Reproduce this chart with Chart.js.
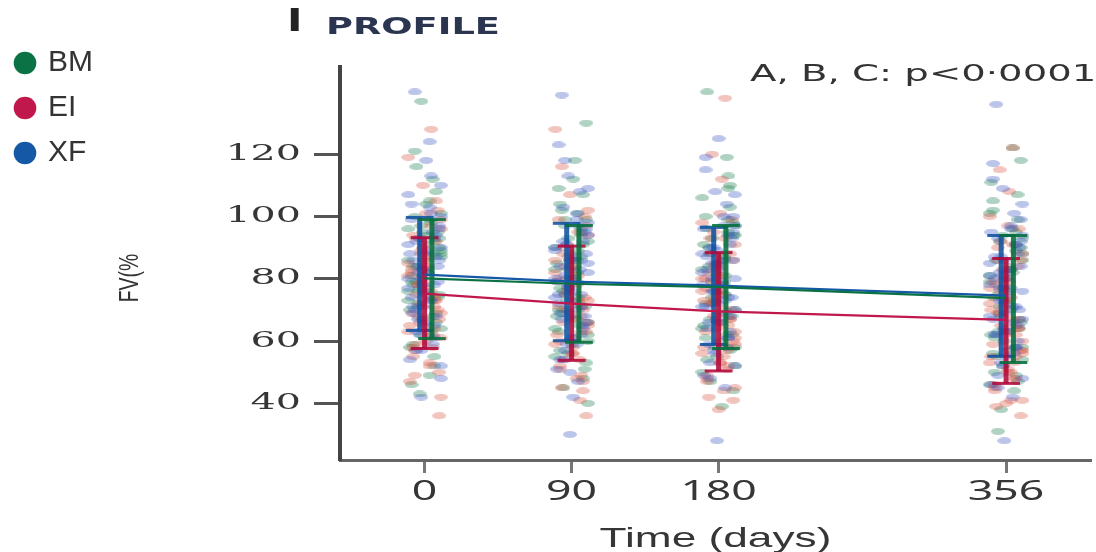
<!DOCTYPE html>
<html>
<head>
<meta charset="utf-8">
<script src="https://cdn.jsdelivr.net/npm/chart.js@4.4.1/dist/chart.umd.min.js"></script>
<style>
  html, body { margin: 0; padding: 0; background: #fff; }
  .wrap { width: 1096px; height: 552px; position: relative; }
</style>
</head>
<body>
<div class="wrap"><canvas id="profileChart"></canvas></div>
<script>
// time points (days) and axis ticks
const timepoints = [0, 90, 180, 356];
const yTicks = [40, 60, 80, 100, 120];

// mean and +/- SD
const bmMean = [80.1, 78.4, 77.3, 73.8];
const bmLow = [60.8, 59.6, 57.6, 53.1];
const bmHigh = [99.0, 97.1, 97.1, 93.9];
const eiMean = [75.2, 72.0, 69.5, 66.8];
const eiLow = [57.6, 53.8, 50.4, 46.4];
const eiHigh = [93.2, 90.5, 88.4, 86.5];
const xfMean = [81.3, 79.1, 77.8, 74.6];
const xfLow = [63.4, 60.1, 58.9, 55.1];
const xfHigh = [99.7, 97.8, 96.5, 93.9];

// individual patients (FV %), per time point
const bm0 = [84, 61, 137, 93, 73, 104, 55, 79, 99, 46, 88, 67, 112, 76, 95, 58, 82, 121, 69, 91, 43, 101, 78, 63, 86, 52, 97, 75, 116, 65, 81, 49, 108, 71, 89, 95,
             83, 70, 92, 77, 64, 100, 86, 74, 96, 68, 81, 90, 59, 105, 72, 87, 79, 94, 66, 84, 98, 76, 62, 88];
const bm90 = [77, 101, 56, 130, 83, 67, 94, 45, 79, 109, 62, 88, 72, 97, 51, 85, 118, 69, 91, 59, 80, 40, 104, 74, 64, 87, 93, 53, 76, 112, 70, 82, 48, 99, 66, 86,
              81, 68, 95, 73, 60, 102, 84, 71, 90, 65, 78, 99, 57, 86, 75, 92, 63, 80, 107, 70, 89, 55, 83, 96];
const bm180 = [140, 75, 58, 98, 83, 66, 109, 47, 87, 72, 94, 55, 119, 79, 62, 91, 39, 84, 103, 69, 76, 52, 96, 81, 64, 113, 73, 44, 88, 60, 100, 78, 57, 93, 70, 85,
               79, 65, 99, 72, 58, 90, 84, 68, 106, 62, 81, 94, 54, 87, 74, 97, 61, 76, 110, 67, 86, 50, 82, 95];
const bm356 = [74, 96, 52, 118, 81, 63, 89, 31, 70, 105, 58, 77, 44, 92, 67, 111, 84, 55, 99, 72, 38, 86, 61, 122, 79, 49, 94, 66, 75, 57, 102, 83, 47, 69, 88, 60,
               76, 62, 95, 68, 54, 86, 80, 64, 101, 58, 78, 90, 50, 83, 71, 93, 56, 73, 107, 63, 82, 46, 77, 91];
const ei0 = [72, 96, 58, 128, 81, 64, 88, 36, 75, 101, 69, 53, 92, 78, 61, 110, 84, 47, 73, 66, 99, 57, 86, 70, 119, 62, 79, 50, 94, 74, 68, 42, 83, 77, 105, 59,
             76, 63, 89, 71, 55, 97, 80, 67, 85, 60, 74, 93, 52, 82, 69, 90, 58, 78, 102, 65, 87, 49, 73, 84];
const ei90 = [70, 94, 52, 81, 128, 63, 76, 36, 88, 58, 99, 67, 44, 84, 73, 107, 61, 79, 49, 91, 65, 116, 56, 74, 86, 41, 69, 97, 60, 78, 54, 102, 71, 83, 47, 66,
              73, 59, 87, 68, 51, 95, 77, 63, 82, 56, 71, 90, 48, 80, 66, 86, 54, 75, 100, 62, 84, 45, 70, 79];
const ei180 = [68, 91, 49, 138, 76, 58, 84, 41, 72, 101, 63, 55, 88, 79, 45, 66, 112, 73, 52, 95, 61, 82, 38, 70, 98, 57, 64, 86, 47, 75, 120, 59, 80, 53, 67, 93,
               70, 56, 85, 65, 48, 93, 74, 60, 80, 53, 68, 88, 44, 77, 63, 83, 51, 72, 99, 58, 81, 42, 67, 76];
const ei356 = [65, 88, 46, 122, 72, 55, 81, 36, 69, 97, 59, 50, 84, 76, 41, 63, 108, 70, 48, 92, 57, 78, 40, 67, 100, 53, 62, 86, 44, 74, 115, 56, 79, 51, 64, 90,
               67, 53, 83, 62, 45, 91, 71, 57, 77, 50, 65, 86, 41, 74, 60, 80, 48, 69, 96, 55, 79, 39, 64, 73];
const xf0 = [90, 140, 66, 84, 107, 59, 78, 96, 71, 124, 82, 52, 99, 75, 87, 63, 113, 80, 42, 93, 69, 101, 57, 86, 77, 118, 61, 92, 73, 104, 48, 83, 95, 67, 79, 88,
             82, 70, 94, 76, 62, 100, 86, 73, 91, 65, 80, 97, 57, 88, 74, 103, 68, 84, 110, 71, 89, 54, 78, 93];
const xf90 = [82, 139, 61, 95, 74, 108, 30, 88, 69, 99, 57, 85, 123, 76, 64, 92, 47, 80, 113, 71, 54, 97, 78, 66, 90, 42, 86, 103, 59, 75, 94, 50, 83, 118, 68, 79,
              80, 67, 92, 73, 59, 98, 84, 70, 89, 62, 77, 96, 54, 86, 72, 101, 65, 81, 109, 68, 87, 51, 75, 91];
const xf180 = [80, 59, 125, 93, 71, 104, 28, 86, 64, 97, 76, 52, 115, 83, 68, 90, 45, 78, 108, 61, 87, 73, 56, 100, 82, 66, 94, 48, 79, 119, 70, 89, 58, 85, 74, 96,
               78, 66, 91, 72, 57, 97, 83, 69, 88, 61, 76, 95, 53, 85, 71, 100, 63, 80, 107, 67, 86, 49, 74, 90];
const xf356 = [76, 136, 55, 90, 68, 101, 28, 84, 62, 96, 73, 48, 117, 80, 65, 93, 42, 78, 109, 58, 87, 71, 52, 99, 81, 63, 91, 45, 77, 112, 67, 86, 56, 82, 70, 95,
               75, 62, 88, 69, 53, 94, 80, 66, 85, 58, 73, 92, 49, 82, 67, 97, 60, 77, 104, 64, 83, 46, 71, 87];

// horizontal scatter of the dots around each time point (days)
const jitter = [-7, 4, -2, 9, -10, 1, 6, -5, 3, -8, 10, -1, 5, -4, 8, -9, 2, -6, 7, 0, -3, 10, -7, 4, -10, 6, -2, 9, -5, 1, -8, 3, 7, -4, 10, -1,
                2, -9, 6, -3, 10, -6, 0, 8, -10, 5, -1, 9, -7, 3, -4, 10, -8, 1, 7, -5, 4, -10, -2, 6];

const capHalf = 8.5;

const groups = [
    { name: 'BM', line: '#0b7245', bar: 'rgba(6,110,60,0.88)', dot: 'rgba(30,125,80,0.35)', off: 4.5, shift: 0, layer: 5,
      mean: bmMean, lo: bmLow, hi: bmHigh, vals: [bm0, bm90, bm180, bm356] },
    { name: 'EI', line: '#c0184c', bar: 'rgba(178,8,58,0.88)', dot: 'rgba(215,85,70,0.35)', off: 0, shift: 20, layer: 4,
      mean: eiMean, lo: eiLow, hi: eiHigh, vals: [ei0, ei90, ei180, ei356] },
    { name: 'XF', line: '#1458a6', bar: 'rgba(16,82,160,0.88)', dot: 'rgba(60,90,195,0.35)', off: -3, shift: 40, layer: 3,
      mean: xfMean, lo: xfLow, hi: xfHigh, vals: [xf0, xf90, xf180, xf356] }
];

function dotImage(color) {
    const c = document.createElement('canvas');
    c.width = 14;
    c.height = 7;
    const g = c.getContext('2d');
    g.fillStyle = color;
    g.beginPath();
    g.ellipse(7, 3.5, 7, 3.5, 0, 0, Math.PI * 2);
    g.fill();
    return c;
}

function barPoints(grp) {
    const pts = [];
    timepoints.forEach((t, i) => {
        const x = t + grp.off;
        pts.push({x: x - capHalf, y: grp.hi[i]}, {x: x + capHalf, y: grp.hi[i]}, {x: x, y: null},
                 {x: x, y: grp.hi[i]}, {x: x, y: grp.lo[i]}, {x: x, y: null},
                 {x: x - capHalf, y: grp.lo[i]}, {x: x + capHalf, y: grp.lo[i]}, {x: x, y: null});
    });
    return pts;
}

const datasets = [];
groups.forEach(grp => {
    datasets.push({
        kind: 'mean',
        label: grp.name,
        data: timepoints.map((t, i) => ({x: t, y: grp.mean[i]})),
        showLine: true,
        borderColor: grp.line,
        borderWidth: 2.2,
        pointRadius: 0,
        pointStyle: 'circle',
        pointBackgroundColor: grp.line,
        pointBorderWidth: 0,
        order: 1
    });
});
groups.forEach(grp => {
    datasets.push({
        kind: 'bar',
        label: grp.name + ' SD',
        data: barPoints(grp),
        showLine: true,
        spanGaps: false,
        borderColor: grp.bar,
        borderWidth: 5,
        borderCapStyle: 'butt',
        segment: { borderWidth: c => (c.p0.parsed.y === c.p1.parsed.y ? 3 : 5) },
        pointRadius: 0,
        order: 2
    });
});
groups.forEach(grp => {
    const pts = [];
    timepoints.forEach((t, j) => {
        grp.vals[j].forEach((v, i) => {
            pts.push({x: t + jitter[(i + grp.shift) % jitter.length], y: v});
        });
    });
    datasets.push({
        kind: 'dots',
        label: grp.name + ' patients',
        data: pts,
        pointStyle: dotImage(grp.dot),
        pointRadius: 4,
        order: grp.layer
    });
});

// text of the figure drawn with a horizontal stretch, like the source image
const stretchText = {
    id: 'stretchText',
    afterDraw(chart) {
        const ctx = chart.ctx;
        const xs = chart.scales.x, ys = chart.scales.y;
        function put(str, x, y, font, color, sx, align) {
            ctx.save();
            ctx.font = font;
            ctx.fillStyle = color;
            ctx.textAlign = align;
            ctx.textBaseline = 'middle';
            ctx.translate(x, y);
            ctx.scale(sx, 1);
            ctx.fillText(str, 0, 0);
            ctx.restore();
        }
        yTicks.forEach(v => put(String(v), 301, ys.getPixelForValue(v), '22px "DejaVu Serif"', '#363636', 1.8, 'right'));
        timepoints.forEach(v => put(String(v), xs.getPixelForValue(v), 492, '27px "Noto Sans"', '#363636', 1.65, 'center'));
        put('Time (days)', (xs.left + xs.right) / 2, 539, '28px "Liberation Sans"', '#363636', 1.58, 'center');
        put('A, B, C: p<0\u00b70001', 750, 75, '23px "DejaVu Sans"', '#333', 1.68, 'left');
        put('I', 287, 23, 'bold 32px "DejaVu Sans"', '#222', 1.3, 'left');
        put('PROFILE', 326, 28, 'bold 23px "DejaVu Sans"', '#2b3550', 1.6, 'left');

        ctx.save();
        ctx.translate(131, 278);
        ctx.rotate(-Math.PI / 2);
        ctx.scale(0.72, 1);
        ctx.font = '27px "Liberation Sans", sans-serif';
        ctx.fillStyle = '#333';
        ctx.textAlign = 'center';
        ctx.textBaseline = 'middle';
        ctx.fillText('FV(%', 0, 0);
        ctx.restore();
    }
};

new Chart(document.getElementById('profileChart'), {
    type: 'scatter',
    data: { datasets: datasets },
    plugins: [stretchText],
    options: {
        maintainAspectRatio: false,
        animation: false,
        events: [],
        layout: { padding: { top: 33, right: 4, bottom: 0, left: 2 } },
        plugins: {
            tooltip: { enabled: false },
            title: { display: false },
            legend: {
                position: 'left',
                align: 'start',
                labels: {
                    usePointStyle: true,
                    pointStyle: 'circle',
                    boxWidth: 16,
                    boxHeight: 16,
                    padding: 15,
                    color: '#333',
                    font: { family: '"Liberation Sans Narrow", "Liberation Sans", sans-serif', size: 30 },
                    filter: (item, data) => data.datasets[item.datasetIndex].kind === 'mean'
                }
            }
        },
        scales: {
            x: {
                type: 'linear',
                min: -51.8,
                max: 408,
                afterBuildTicks: s => { s.ticks = timepoints.map(v => ({value: v})); },
                afterFit: s => { s.height = 92; },
                ticks: { display: false },
                grid: { drawOnChartArea: false, drawTicks: true, tickLength: 13, tickWidth: 3, tickColor: '#777' },
                border: { display: true, color: '#666', width: 3 }
            },
            y: {
                min: 21.8,
                max: 148,
                afterBuildTicks: s => { s.ticks = yTicks.map(v => ({value: v})); },
                afterFit: s => {
                    s.width = 338 - s.chart.legend.width;
                    s.paddingTop = 67;
                },
                ticks: { display: false },
                grid: { drawOnChartArea: false, drawTicks: true, tickLength: 26, tickWidth: 3, tickColor: '#555' },
                border: { display: true, color: '#444', width: 4 }
            }
        }
    }
});
</script>
</body>
</html>
